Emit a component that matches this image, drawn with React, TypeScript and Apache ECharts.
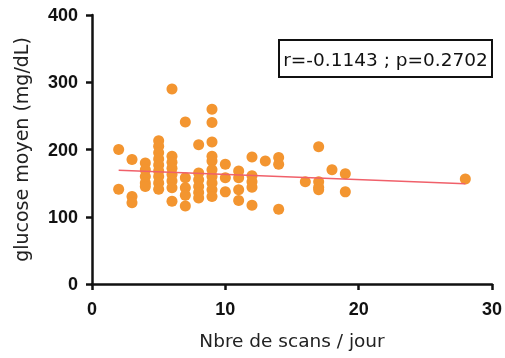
import React, { useEffect, useRef } from "react";
import * as echarts from "echarts";

const scansX: number[] = [
  2, 2,
  3, 3, 3,
  4, 4, 4, 4, 4,
  5, 5, 5, 5, 5, 5, 5, 5, 5,
  6, 6, 6, 6, 6, 6, 6, 6,
  7, 7, 7, 7, 7,
  8, 8, 8, 8, 8, 8,
  9, 9, 9, 9, 9, 9, 9, 9, 9, 9,
  10, 10, 10,
  11, 11, 11, 11,
  12, 12, 12, 12, 12,
  13,
  14, 14, 14,
  16,
  17, 17, 17, 17,
  18,
  19, 19,
  28,
];
const glucoseY: number[] = [
  200, 141,
  185, 130, 121,
  180, 170, 160, 150, 145,
  213, 205, 195, 186, 177, 168, 160, 150, 141,
  290, 190, 181, 172, 163, 153, 143, 123,
  241, 158, 143, 132, 116,
  207, 165, 155, 145, 136, 128,
  260, 240, 211, 190, 183, 170, 160, 150, 140, 130,
  178, 158, 137,
  168, 158, 140, 124,
  189, 161, 152, 144, 117,
  183,
  188, 178, 111,
  152,
  204, 152, 144, 140,
  170,
  164, 137,
  156,
];
const fitX: number[] = [2, 28];
const fitY: number[] = [169, 149];
const statsLabel = "r=-0.1143 ; p=0.2702";
const xTicks = { min: 0, max: 30, interval: 10 };
const yTicks = { min: 0, max: 400, interval: 100 };

export default function App() {
  const ref = useRef<HTMLDivElement>(null);
  useEffect(() => {
    if (!ref.current) return;
    const chart = echarts.init(ref.current, null, { renderer: "svg" });
    const pts = scansX.map((x, i) => [x, glucoseY[i]]);
    const fit = fitX.map((x, i) => [x, fitY[i]]);
    const tickFont = "Arial, 'Liberation Sans', Helvetica, sans-serif";
    const nameFont = "'DejaVu Sans', Arial, sans-serif";
    chart.setOption({
      animation: false,
      grid: { left: 92, right: 12, top: 15, bottom: 74, containLabel: false },
      xAxis: {
        type: "value",
        min: xTicks.min,
        max: xTicks.max,
        interval: xTicks.interval,
        name: "Nbre de scans / jour",
        nameLocation: "middle",
        nameGap: 47,
        nameTextStyle: { fontSize: 18.5, color: "#222", fontFamily: nameFont },
        axisLine: { show: true, onZero: false, lineStyle: { color: "#111", width: 2.5 } },
        axisTick: { show: true, length: 6, lineStyle: { color: "#111", width: 2.5 } },
        axisLabel: { fontSize: 18, fontWeight: "bold", color: "#111", margin: 16, fontFamily: tickFont },
        splitLine: { show: false },
      },
      yAxis: {
        type: "value",
        min: yTicks.min,
        max: yTicks.max,
        interval: yTicks.interval,
        name: "glucose moyen (mg/dL)",
        nameLocation: "middle",
        nameGap: 62,
        nameTextStyle: { fontSize: 19, color: "#222", fontFamily: nameFont },
        axisLine: { show: true, onZero: false, lineStyle: { color: "#111", width: 2.5 } },
        axisTick: { show: true, length: 6, lineStyle: { color: "#111", width: 2.5 } },
        axisLabel: { fontSize: 18, fontWeight: "bold", color: "#111", margin: 14, fontFamily: tickFont },
        splitLine: { show: false },
      },
      graphic: [
        {
          type: "rect",
          shape: { x: 279, y: 40, width: 213, height: 37 },
          style: { fill: "#fff", stroke: "#111", lineWidth: 2 },
          z: 10,
        },
        {
          type: "text",
          x: 385.5,
          y: 59,
          style: {
            text: statsLabel,
            fontSize: 18.5,
            fill: "#111",
            fontFamily: nameFont,
            align: "center",
            verticalAlign: "middle",
          },
          z: 11,
        },
      ],
      series: [
        {
          type: "scatter",
          data: pts,
          symbol: "circle",
          symbolSize: 11,
          itemStyle: { color: "#F39530", opacity: 1 },
          z: 2,
        },
        {
          type: "line",
          data: fit,
          symbol: "none",
          lineStyle: { color: "#F0606A", width: 1.5 },
          z: 3,
        },
      ],
    });
    return () => chart.dispose();
  }, []);
  return (
    <div
      ref={ref}
      style={{ position: "fixed", left: 0, top: 0, width: 505, height: 358 }}
    />
  );
}
